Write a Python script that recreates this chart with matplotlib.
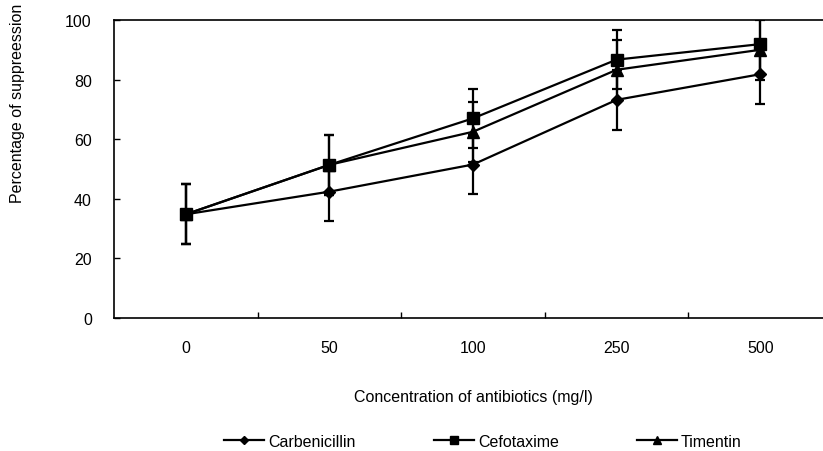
import matplotlib
matplotlib.use("Agg")
import matplotlib.pyplot as plt

plt.rcParams['font.family'] = ['Liberation Sans', 'DejaVu Sans']

# data
concentrations = ['0', '50', '100', '250', '500']
carbenicillin = [34.8, 42.4, 51.5, 73.2, 81.8]
cefotaxime = [34.8, 51.4, 67.0, 86.7, 91.9]
timentin = [34.8, 51.4, 62.5, 83.3, 90.0]
err = [10, 10, 10, 10, 10]

fig = plt.figure(figsize=(8.23, 4.52), dpi=100)
ax = fig.add_axes([114/823, 1 - 319/452, 718/823, 298/452])

x = range(len(concentrations))
series = [
    ('Carbenicillin', carbenicillin, 'D', 6),
    ('Cefotaxime', cefotaxime, 's', 8),
    ('Timentin', timentin, '^', 8),
]
for name, vals, mk, ms in series:
    ax.errorbar(x, vals, yerr=err, color='black', lw=1.6, marker=mk, ms=ms,
                capsize=3.5, elinewidth=1.6, capthick=1.6, label=name)

ax.set_xlim(-0.5, 4.5)
ax.set_ylim(0, 100)
ax.set_yticks([0, 20, 40, 60, 80, 100])
ax.set_xticks(list(x))
ax.set_xticklabels(concentrations)
ax.set_xticks([0.5, 1.5, 2.5, 3.5], minor=True)
ax.tick_params(axis='x', which='major', length=0, pad=16, labelsize=11.5)
ax.tick_params(axis='x', which='minor', direction='in', length=4, width=1)
ax.tick_params(axis='y', direction='in', length=4, width=1, pad=16, labelsize=11.5)
for sp in ax.spines.values():
    sp.set_linewidth(1.2)

ax.set_xlabel('Concentration of antibiotics (mg/l)', fontsize=11.5, labelpad=24)
ax.set_ylabel('Percentage of suppreession', fontsize=11.5)
# label sits high, not centred on the axis
ax.yaxis.set_label_coords(-0.124, 0.725)

h, l = ax.get_legend_handles_labels()
h = [hh[0] for hh in h]
fig.legend(h, l, loc='center', bbox_to_anchor=(0.587, 0.022), ncol=3,
           frameon=False, fontsize=11.5, handlelength=2.5, handletextpad=0.25,
           columnspacing=4.9, markerscale=0.65)

fig.savefig('out.png', dpi=100)
